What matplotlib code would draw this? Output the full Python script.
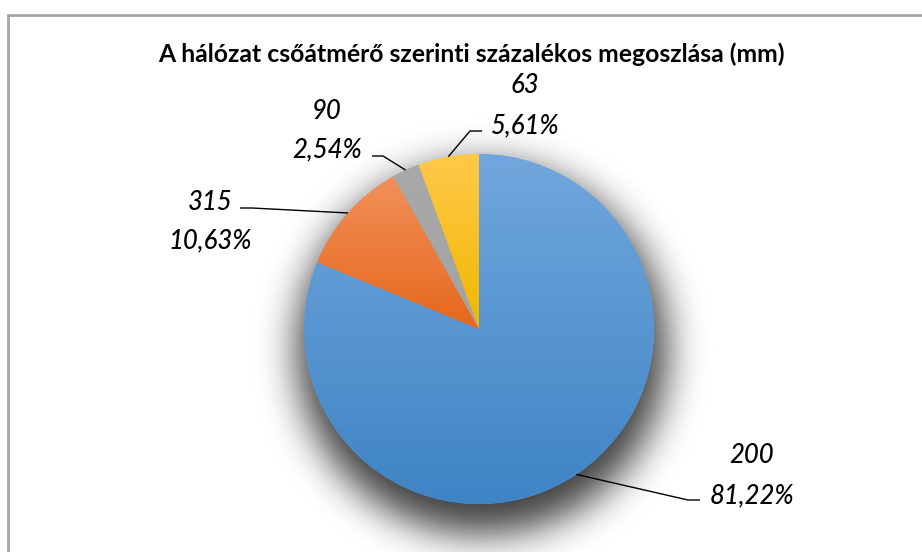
import numpy as np
import matplotlib
matplotlib.use("Agg")
import matplotlib.pyplot as plt
from matplotlib.colors import LinearSegmentedColormap
from matplotlib.patches import Rectangle

# data
categories = ["200", "315", "90", "63"]
shares = [81.22, 10.63, 2.54, 5.61]
title = "A hálózat csőátmérő szerinti százalékos megoszlása (mm)"

top_colors = ["#71a7dd", "#f2905a", "#a9a9a9", "#ffc94a"]
bottom_colors = ["#3f84c5", "#e5671b", "#a3a3a3", "#efb700"]

# label layout in pixel coords (x, baseline of name, baseline of pct)
label_pos = [(752, 463, 503), (210, 210, 248), (327, 119, 157), (525, 93, 133)]
elbows = [[(688, 500), (700, 500)],
          [(252, 208), (240, 208)],
          [(383, 156), (372, 156)],
          [(470, 131), (482, 131)]]

W, H = 922, 552
cx, cy, R = 479, 329, 175

plt.rcParams['font.family'] = ['Lato', 'DejaVu Sans']

fig = plt.figure(figsize=(W / 100, H / 100), dpi=100)
ax = fig.add_axes([0, 0, 1, 1])


def py(y):
    # pixel row -> data y
    return H - y


# soft shadow under the pie
yy, xx = np.mgrid[0:H, 0:W]
mask = (((xx - cx - 2) ** 2 + (yy - cy - 20) ** 2) <= 185 ** 2).astype(float)
sig = 19
k = np.arange(-3 * sig, 3 * sig + 1)
g = np.exp(-k ** 2 / (2 * sig ** 2))
g /= g.sum()
blur = np.apply_along_axis(lambda r: np.convolve(r, g, mode="same"), 1, mask)
blur = np.apply_along_axis(lambda c: np.convolve(c, g, mode="same"), 0, blur)
shadow = np.zeros((H, W, 4))
shadow[..., 3] = 0.75 * blur
ax.imshow(shadow, extent=(0, W, 0, H), origin="upper", zorder=1, interpolation="bilinear")

wedges, _ = ax.pie(shares, center=(cx, py(cy)), radius=R, startangle=90,
                   counterclock=False, frame=True,
                   wedgeprops=dict(linewidth=0, zorder=2))

grad = np.linspace(0, 1, 256).reshape(-1, 1)
for w, c0, c1 in zip(wedges, top_colors, bottom_colors):
    w.set_facecolor(c0)
    ext = w.get_path().get_extents()
    cmap = LinearSegmentedColormap.from_list("g", [c0, c1])
    im = ax.imshow(grad, cmap=cmap, aspect="auto", origin="upper",
                   extent=(ext.x0, ext.x1, ext.y0, ext.y1), zorder=3)
    im.set_clip_path(w)

# labels with leader lines
for w, cat, pct, (lx, yb1, yb2), elb in zip(wedges, categories, shares, label_pos, elbows):
    mid = np.deg2rad((w.theta1 + w.theta2) / 2)
    ax_x = cx + R * np.cos(mid)
    ax_y = py(cy) + R * np.sin(mid)
    xs = [ax_x] + [p[0] for p in elb]
    ys = [ax_y] + [py(p[1]) for p in elb]
    ax.plot(xs, ys, color="black", lw=1.0, zorder=4, solid_capstyle="butt")
    ax.text(lx, py(yb1), cat, ha="center", va="baseline", fontsize=18.5,
            style="italic", fontweight="medium", color="black", zorder=5)
    ax.text(lx, py(yb2), f"{pct:.2f}".replace(".", ",") + "%", ha="center",
            va="baseline", fontsize=18.5, style="italic", fontweight="medium",
            color="black", zorder=5)

ax.text(471, py(62), title, ha="center", va="baseline", fontsize=17.8,
        fontweight="bold", color="black", zorder=5)

# chart area border
ax.add_patch(Rectangle((8, py(H + 20)), W + 20, H + 5, fill=False,
                       edgecolor="#a6a6a6", lw=2, zorder=6))

ax.set_xlim(0, W)
ax.set_ylim(0, H)
ax.set_aspect("auto")
ax.axis("off")

fig.savefig("out.png", dpi=100)
